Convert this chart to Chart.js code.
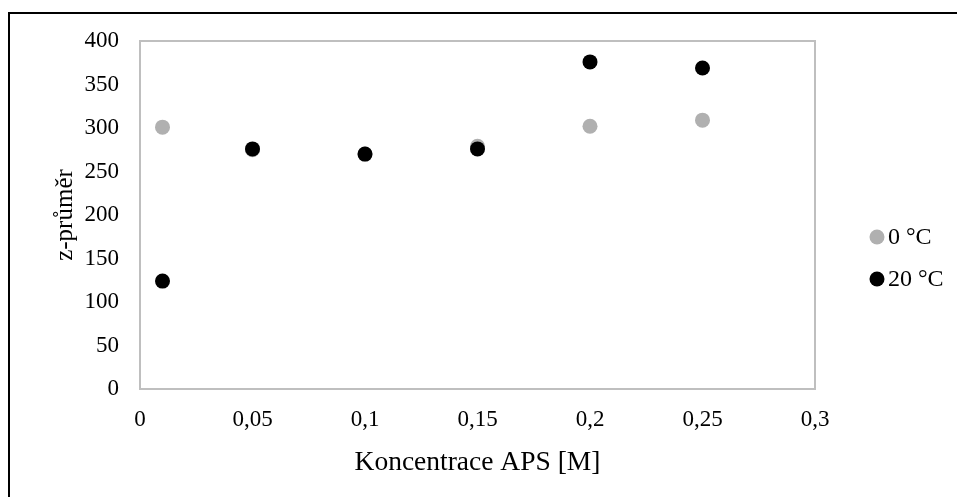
<!DOCTYPE html>
<html lang="cs">
<head>
  <meta charset="UTF-8">
  <title>z-průměr</title>
  <style>
    body { margin: 0; background: #fff; }
    canvas { display: block; }
  </style>
</head>
<body>
  <canvas id="graf" width="957" height="497"></canvas>
  <script src="https://cdn.jsdelivr.net/npm/chart.js"></script>
  <script>
    // koncentrace APS [M]
    const koncentrace = [0.01, 0.05, 0.1, 0.15, 0.2, 0.25];
    // z-průměr pro obě teploty
    const prumer0 = [301, 275, 270, 279, 302, 309];
    const prumer20 = [124, 276, 270, 276, 376, 369];
    const popisyX = ["0", "0,05", "0,1", "0,15", "0,2", "0,25", "0,3"];
    const popisyY = ["0", "50", "100", "150", "200", "250", "300", "350", "400"];

    const pisma = "'Liberation Serif', 'Times New Roman', serif";

    function body(hodnoty) {
      return koncentrace.map((x, i) => ({ x: x, y: hodnoty[i] }));
    }

    // ramecek kolem celeho grafu a kolem oblasti grafu
    const ramecky = {
      id: "ramecky",
      beforeDraw(chart) {
        const ctx = chart.ctx;
        ctx.save();
        ctx.fillStyle = "#fff";
        ctx.fillRect(0, 0, chart.width, chart.height);
        ctx.strokeStyle = "#000";
        ctx.lineWidth = 2;
        ctx.strokeRect(9, 13, chart.width + 20, chart.height + 20);
        ctx.restore();
      },
      beforeDatasetsDraw(chart) {
        const a = chart.chartArea;
        const ctx = chart.ctx;
        ctx.save();
        ctx.strokeStyle = "#bfbfbf";
        ctx.lineWidth = 2;
        ctx.strokeRect(a.left, a.top, a.right - a.left, a.bottom - a.top);
        ctx.restore();
      }
    };

    // legenda vpravo od grafu
    const legenda = {
      id: "legenda",
      afterDraw(chart) {
        const ctx = chart.ctx;
        ctx.save();
        ctx.font = "24px " + pisma;
        ctx.textBaseline = "middle";
        ctx.textAlign = "left";
        chart.data.datasets.forEach((ds, i) => {
          const y = 237 + i * 42;
          ctx.fillStyle = ds.backgroundColor;
          ctx.beginPath();
          ctx.arc(877, y, 7.5, 0, Math.PI * 2);
          ctx.fill();
          ctx.fillStyle = "#000";
          ctx.fillText(ds.label, 888, y + 1);
        });
        ctx.restore();
      }
    };

    new Chart(document.getElementById("graf"), {
      type: "scatter",
      data: {
        datasets: [
          {
            label: "0 °C",
            data: body(prumer0),
            backgroundColor: "#b0b0b0",
            borderWidth: 0,
            pointRadius: 7.5,
            order: 1
          },
          {
            label: "20 °C",
            data: body(prumer20),
            backgroundColor: "#000000",
            borderWidth: 0,
            pointRadius: 7.5,
            order: 0
          }
        ]
      },
      options: {
        responsive: false,
        animation: false,
        layout: { padding: { left: 0, top: 41, right: 142, bottom: 0 } },
        plugins: {
          legend: { display: false },
          tooltip: { enabled: false }
        },
        scales: {
          x: {
            type: "linear",
            min: 0,
            max: 0.3,
            grid: { display: false, drawTicks: false },
            border: { display: false },
            afterBuildTicks: (s) => {
              s.ticks = popisyX.map((t, i) => ({ value: i * 0.05 }));
            },
            afterFit: (s) => { s.height = 108; },
            ticks: {
              color: "#000",
              padding: 17,
              maxRotation: 0,
              font: { family: pisma, size: 23 },
              callback: (v, i) => popisyX[i]
            },
            title: {
              display: true,
              text: "Koncentrace APS [M]",
              color: "#000",
              font: { family: pisma, size: 27.5 },
              padding: { bottom: 18 }
            }
          },
          y: {
            min: 0,
            max: 400,
            grid: { display: false, drawTicks: false },
            border: { display: false },
            afterBuildTicks: (s) => {
              s.ticks = popisyY.map((t, i) => ({ value: i * 50 }));
            },
            afterFit: (s) => { s.width = 140; },
            ticks: {
              color: "#000",
              padding: 21,
              font: { family: pisma, size: 23 },
              callback: (v, i) => popisyY[i]
            },
            title: {
              display: true,
              text: "z-průměr",
              color: "#000",
              font: { family: pisma, size: 25 },
              padding: { top: 50 }
            }
          }
        }
      },
      plugins: [ramecky, legenda]
    });
  </script>
</body>
</html>
